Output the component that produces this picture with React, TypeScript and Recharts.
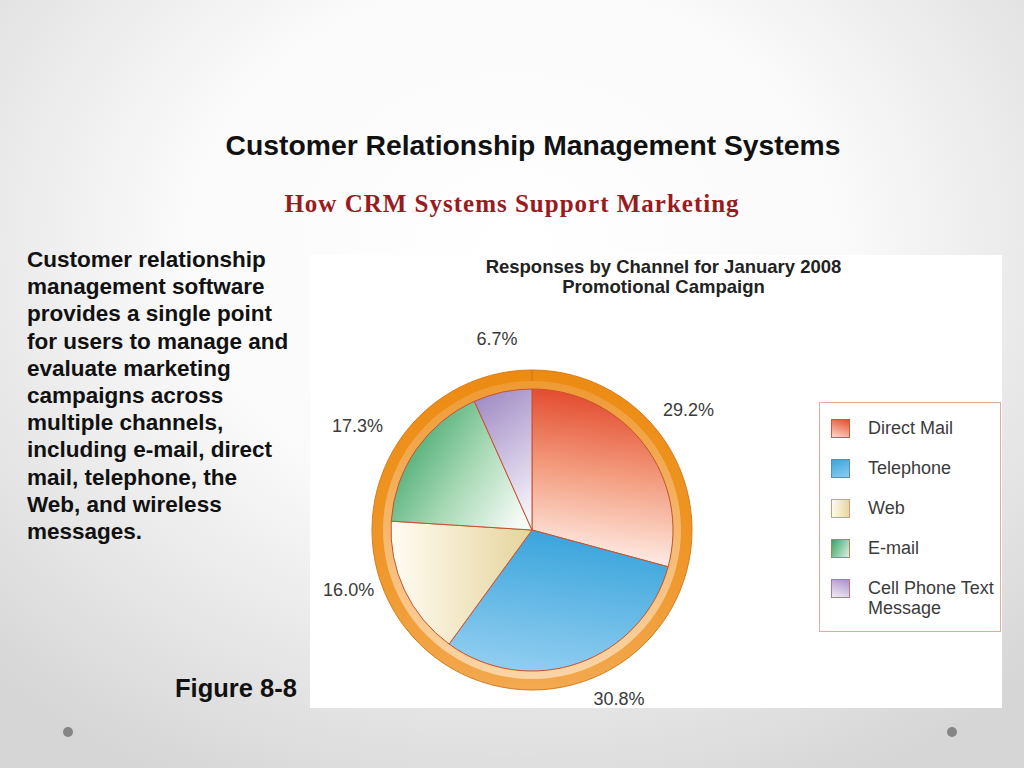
import { Cell, Legend, Pie, PieChart } from "recharts";

const channels = ["Direct Mail", "Telephone", "Web", "E-mail", "Cell Phone Text Message"];
const legendLines = [["Direct Mail"], ["Telephone"], ["Web"], ["E-mail"], ["Cell Phone Text", "Message"]];
const shares = [29.2, 30.8, 16.0, 17.3, 6.7];

const bodyLines = [
  "Customer relationship",
  "management software",
  "provides a single point",
  "for users to manage and",
  "evaluate marketing",
  "campaigns across",
  "multiple channels,",
  "including e-mail, direct",
  "mail, telephone, the",
  "Web, and wireless",
  "messages.",
];

const gradIds = ["gMail", "gPhone", "gWeb", "gEmail", "gCell"];
const swatchBorders = ["#d2553a", "#5a8fb0", "#d59a78", "#b08060", "#c87080"];
const swatchFills = [
  "linear-gradient(200deg, #e34d2c, #fbd9cc)",
  "linear-gradient(160deg, #3aa6dc, #8ccbef)",
  "linear-gradient(90deg, #fffaf0, #e8d6a0)",
  "linear-gradient(120deg, #38a465, #dff0e2)",
  "linear-gradient(200deg, #a993c8, #f0ecf7)",
];
// label placement tweaks (degrees counter-clockwise, radius)
const labelTurn = [0, 7.8, -7, 4, -1.7];
const labelRadius = [197, 190, 193, 203, 194];

const sans = "'Liberation Sans', Arial, sans-serif";
const RAD = Math.PI / 180;

const data = channels.map((name, i) => ({ name, value: shares[i] }));

function renderLabel(p: any) {
  const r = labelRadius[p.index];
  const a = (p.midAngle + labelTurn[p.index]) * RAD;
  const x = p.cx + r * Math.cos(-a);
  const y = p.cy + r * Math.sin(-a);
  return (
    <text
      x={x}
      y={y}
      textAnchor="middle"
      dominantBaseline="central"
      fill="#3a3a3a"
      fontSize={18}
      fontFamily={sans}
    >
      {p.value.toFixed(1)}%
    </text>
  );
}

function LegendBox() {
  return (
    <div
      style={{
        width: 182,
        height: 230,
        boxSizing: "border-box",
        border: "1.5px solid #e2ad98",
        paddingTop: 15,
        fontFamily: sans,
        fontSize: 18,
        color: "#3c3c3c",
      }}
    >
      {legendLines.map((lines, i) => (
        <div key={channels[i]} style={{ display: "flex", height: 40 }}>
          <div
            style={{
              width: 19,
              height: 19,
              marginLeft: 11,
              marginTop: 0.5,
              boxSizing: "border-box",
              border: `1.5px solid ${swatchBorders[i]}`,
              background: swatchFills[i],
            }}
          />
          <div style={{ marginLeft: 18, lineHeight: "20px" }}>
            {lines.map((l) => (
              <div key={l}>{l}</div>
            ))}
          </div>
        </div>
      ))}
    </div>
  );
}

export default function App() {
  return (
    <div
      style={{
        position: "absolute",
        left: 0,
        top: 0,
        width: 1024,
        height: 768,
        overflow: "hidden",
        background:
          "radial-gradient(ellipse 72% 78% at 50% 32%, #ffffff 0%, #fafafa 45%, #d6d6d6 100%)",
        fontFamily: sans,
      }}
    >
      <div
        style={{
          position: "absolute",
          top: 129,
          left: 0,
          width: 1066,
          textAlign: "center",
          fontWeight: 700,
          fontSize: 28.3,
          color: "#111",
        }}
      >
        Customer Relationship Management Systems
      </div>
      <div
        style={{
          position: "absolute",
          top: 190,
          left: 0,
          width: 1024,
          textAlign: "center",
          fontFamily: "'Liberation Serif', 'Times New Roman', serif",
          fontWeight: 700,
          fontSize: 25,
          letterSpacing: 1,
          color: "#9a1b1e",
        }}
      >
        How CRM Systems Support Marketing
      </div>
      <div
        style={{
          position: "absolute",
          top: 246,
          left: 27,
          fontWeight: 700,
          fontSize: 22.5,
          lineHeight: "27.2px",
          color: "#111",
        }}
      >
        {bodyLines.map((l) => (
          <div key={l}>{l}</div>
        ))}
      </div>
      <div
        style={{
          position: "absolute",
          top: 674,
          left: 175,
          fontWeight: 700,
          fontSize: 25.5,
          color: "#111",
        }}
      >
        Figure 8-8
      </div>
      <div style={{ position: "absolute", left: 63, top: 727, width: 10, height: 10, borderRadius: 5, background: "#858585" }} />
      <div style={{ position: "absolute", left: 947, top: 727, width: 10, height: 10, borderRadius: 5, background: "#858585" }} />

      <div style={{ position: "absolute", left: 310, top: 255, width: 692, height: 453, background: "#fff" }}>
        <div
          style={{
            position: "absolute",
            top: 2,
            left: 174,
            width: 359,
            textAlign: "center",
            fontWeight: 700,
            fontSize: 18.5,
            lineHeight: "20px",
            color: "#222",
            whiteSpace: "nowrap",
          }}
        >
          <div style={{ marginLeft: -20, marginRight: -20 }}>Responses by Channel for January 2008</div>
          <div>Promotional Campaign</div>
        </div>
        <PieChart width={692} height={453} margin={{ top: 0, right: 0, bottom: 0, left: 0 }}>
          <defs>
            <linearGradient id="gMail" x1="0.4" y1="0" x2="0.3" y2="1">
              <stop offset="0%" stopColor="#e2472a" />
              <stop offset="45%" stopColor="#f29a7c" />
              <stop offset="100%" stopColor="#fff6f2" />
            </linearGradient>
            <linearGradient id="gPhone" x1="0.6" y1="0" x2="0.4" y2="1">
              <stop offset="0%" stopColor="#36a3db" />
              <stop offset="100%" stopColor="#90cdf0" />
            </linearGradient>
            <linearGradient id="gWeb" x1="0" y1="0" x2="1" y2="0">
              <stop offset="0%" stopColor="#fffcf3" />
              <stop offset="100%" stopColor="#e6d49c" />
            </linearGradient>
            <linearGradient id="gEmail" x1="0" y1="0.2" x2="1" y2="0.8">
              <stop offset="0%" stopColor="#33a061" />
              <stop offset="55%" stopColor="#a6d8b4" />
              <stop offset="100%" stopColor="#f6fbf6" />
            </linearGradient>
            <linearGradient id="gCell" x1="0.3" y1="0" x2="0.6" y2="1">
              <stop offset="0%" stopColor="#a28dc5" />
              <stop offset="100%" stopColor="#f6f3fb" />
            </linearGradient>
            <linearGradient id="gRing" x1="0" y1="0" x2="0" y2="1">
              <stop offset="0%" stopColor="#ec8b12" />
              <stop offset="60%" stopColor="#ef9729" />
              <stop offset="100%" stopColor="#f3a950" />
            </linearGradient>
            <linearGradient id="gRingIn" x1="0" y1="0" x2="0" y2="1">
              <stop offset="0%" stopColor="#ef9a33" />
              <stop offset="100%" stopColor="#fbd5a6" />
            </linearGradient>
          </defs>
          <Pie
            data={[{ name: "ring", value: 1 }]}
            dataKey="value"
            cx={222}
            cy={275}
            innerRadius={141}
            outerRadius={160}
            startAngle={90}
            endAngle={-270}
            fill="url(#gRing)"
            stroke="#d97b1c"
            strokeWidth={1}
            legendType="none"
            isAnimationActive={false}
          />
          <Pie
            data={[{ name: "ringIn", value: 1 }]}
            dataKey="value"
            cx={222}
            cy={275}
            innerRadius={141}
            outerRadius={149}
            startAngle={90}
            endAngle={-270}
            fill="url(#gRingIn)"
            stroke="none"
            legendType="none"
            isAnimationActive={false}
          />
          <Pie
            data={data}
            dataKey="value"
            nameKey="name"
            cx={222}
            cy={275}
            innerRadius={0}
            outerRadius={141}
            startAngle={90}
            endAngle={-270}
            stroke="#c7532e"
            strokeWidth={1}
            label={renderLabel}
            labelLine={false}
            isAnimationActive={false}
          >
            {data.map((d, i) => (
              <Cell key={d.name} fill={`url(#${gradIds[i]})`} />
            ))}
          </Pie>
          <Legend
            layout="vertical"
            align="right"
            verticalAlign="top"
            content={() => <LegendBox />}
            wrapperStyle={{ position: "absolute", left: 509, top: 147, width: 182, height: 230 }}
          />
        </PieChart>
      </div>
    </div>
  );
}
